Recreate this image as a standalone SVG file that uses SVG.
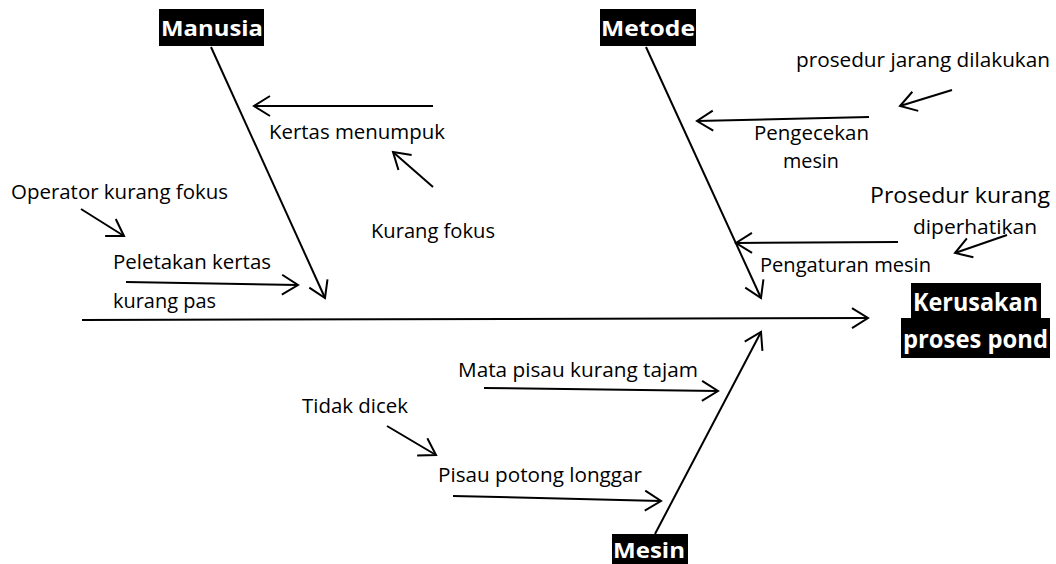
<svg xmlns="http://www.w3.org/2000/svg" width="1056" height="564" viewBox="0 0 1056 564">
<style>
  .bg { fill: #ffffff; }
  .t { font-family: "Open Sans", "Liberation Sans", sans-serif; font-size: 20px; fill: #000000; }
  .big { font-size: 22px; }
  .hd { font-family: "Open Sans", "Liberation Sans", sans-serif; font-weight: bold; font-size: 22px; fill: #ffffff; }
  .box { fill: #000000; }
  .ln { stroke: #000000; stroke-width: 2; fill: none; marker-end: url(#arr); }
</style>
<defs>
  <marker id="arr" viewBox="-20 -12 24 24" refX="0" refY="0" markerWidth="24" markerHeight="24" markerUnits="userSpaceOnUse" orient="auto">
    <path d="M-16,-10 L0,0 L-16,10" fill="none" stroke="#000000" stroke-width="2"/>
  </marker>
</defs>
<rect class="bg" x="0" y="0" width="1056" height="564"/>

<g id="connectors">
  <line class="ln" x1="82" y1="320" x2="868" y2="318"/>
  <line class="ln" x1="211" y1="47" x2="325" y2="298"/>
  <line class="ln" x1="646" y1="47" x2="761" y2="298"/>
  <line class="ln" x1="655" y1="534" x2="761" y2="332"/>
  <line class="ln" x1="433" y1="106" x2="254" y2="106"/>
  <line class="ln" x1="433" y1="187" x2="393" y2="152"/>
  <line class="ln" x1="81" y1="209" x2="124" y2="236"/>
  <line class="ln" x1="126" y1="282" x2="298" y2="285"/>
  <line class="ln" x1="952" y1="90" x2="900" y2="106"/>
  <line class="ln" x1="869" y1="117" x2="697" y2="121"/>
  <line class="ln" x1="1007" y1="235" x2="955" y2="253"/>
  <line class="ln" x1="898" y1="242" x2="736" y2="243"/>
  <line class="ln" x1="484" y1="388" x2="718" y2="391"/>
  <line class="ln" x1="387" y1="426" x2="436" y2="455"/>
  <line class="ln" x1="453" y1="496" x2="661" y2="501"/>
</g>

<g id="manusia">
  <rect class="box" x="159" y="9" width="105" height="37"/>
  <text class="hd" x="161" y="36" textLength="102" lengthAdjust="spacingAndGlyphs">Manusia</text>
</g>
<g id="metode">
  <rect class="box" x="600" y="9" width="96" height="37"/>
  <text class="hd" x="601" y="36" textLength="94" lengthAdjust="spacingAndGlyphs">Metode</text>
</g>
<g id="mesin">
  <rect class="box" x="612" y="534" width="76" height="32"/>
  <text class="hd" x="613" y="558" textLength="72" lengthAdjust="spacingAndGlyphs" style="font-size:21px">Mesin</text>
</g>
<g id="kerusakan">
  <rect class="box" x="911" y="283" width="130" height="35"/>
  <rect class="box" x="901" y="318" width="149" height="40"/>
  <text class="hd" x="913" y="311" textLength="125" lengthAdjust="spacingAndGlyphs" style="font-size:25px">Kerusakan</text>
  <text class="hd" x="903" y="348" textLength="145" lengthAdjust="spacingAndGlyphs" style="font-size:25px">proses pond</text>
</g>

<g id="kertas-menumpuk"><text class="t" x="269" y="139" textLength="176" lengthAdjust="spacingAndGlyphs">Kertas menumpuk</text></g>
<g id="kurang-fokus"><text class="t" x="371" y="238" textLength="124" lengthAdjust="spacingAndGlyphs">Kurang fokus</text></g>
<g id="operator-kurang-fokus"><text class="t" x="11" y="199" textLength="217" lengthAdjust="spacingAndGlyphs">Operator kurang fokus</text></g>
<g id="peletakan-kertas">
  <text class="t" x="113" y="269" textLength="158" lengthAdjust="spacingAndGlyphs">Peletakan kertas</text>
  <text class="t" x="113" y="308" textLength="103" lengthAdjust="spacingAndGlyphs">kurang pas</text>
</g>
<g id="prosedur-jarang"><text class="t" x="796" y="67" textLength="254" lengthAdjust="spacingAndGlyphs">prosedur jarang dilakukan</text></g>
<g id="pengecekan-mesin">
  <text class="t" x="754" y="140" textLength="115" lengthAdjust="spacingAndGlyphs">Pengecekan</text>
  <text class="t" x="783" y="168" textLength="56" lengthAdjust="spacingAndGlyphs">mesin</text>
</g>
<g id="prosedur-kurang">
  <text class="t big" x="870" y="203" textLength="180" lengthAdjust="spacingAndGlyphs">Prosedur kurang</text>
  <text class="t" x="913" y="234" textLength="124" lengthAdjust="spacingAndGlyphs">diperhatikan</text>
</g>
<g id="pengaturan-mesin"><text class="t" x="760" y="272" textLength="171" lengthAdjust="spacingAndGlyphs">Pengaturan mesin</text></g>
<g id="mata-pisau"><text class="t" x="458" y="377" textLength="240" lengthAdjust="spacingAndGlyphs">Mata pisau kurang tajam</text></g>
<g id="tidak-dicek"><text class="t" x="302" y="413" textLength="106" lengthAdjust="spacingAndGlyphs">Tidak dicek</text></g>
<g id="pisau-potong"><text class="t" x="438" y="482" textLength="204" lengthAdjust="spacingAndGlyphs">Pisau potong longgar</text></g>
</svg>
